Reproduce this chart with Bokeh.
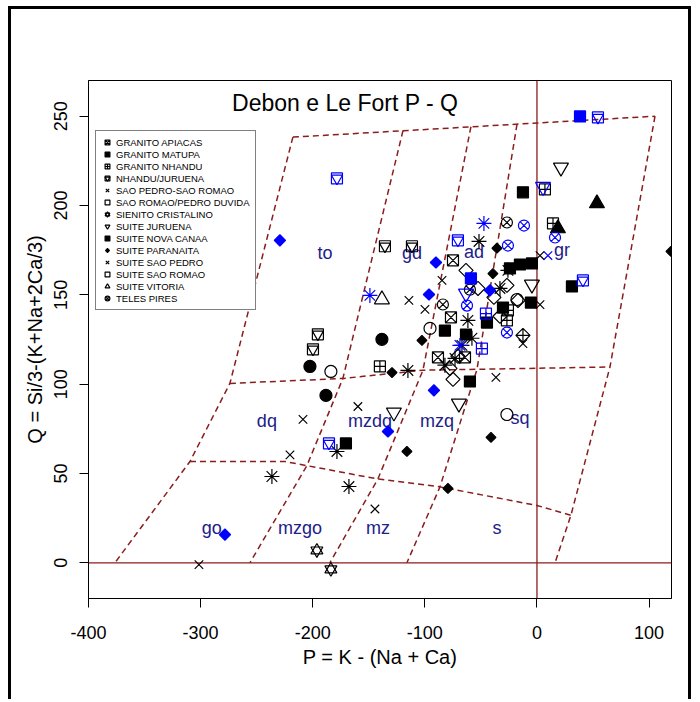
import numpy as np
from bokeh.plotting import figure
from bokeh.models import Range1d, FixedTicker, Span, Label, Legend, LegendItem
from bokeh.core.properties import value
from bokeh.embed import file_html
from bokeh.resources import INLINE

FONT = "Liberation Sans"
DKRED = "#8b1c1c"
NAVY = "#20208a"

# ---------------- Debon & Le Fort P-Q template ----------------
boundary_p = [
    [-217.7, -273.9, -309.5, -376.4],
    [-217.7, 105.3],
    [105.3, 65.1, 30.3, 16.1],
    [-273.9, -173.1, -101.7, 65.1],
    [-309.5, -224.8, -144.5, -88.3, 0.0, 30.3],
    [-119.5, -173.1, -205.2, -256.0],
    [-58.9, -101.7, -141.8, -184.7],
    [-17.8, -53.5, -86.5, -116.0],
]
boundary_q = [
    [238.3, 100.4, 56.7, 0.0],
    [238.3, 250.0],
    [250.0, 109.6, 26.6, 0.0],
    [100.4, 103.2, 107.8, 109.6],
    [56.7, 56.7, 47.2, 42.7, 32.1, 26.6],
    [241.9, 103.2, 54.4, 0.0],
    [244.1, 107.8, 47.0, 0.0],
    [245.5, 108.3, 42.5, 0.0],
]
field_names = ["to", "gd", "ad", "gr", "dq", "mzdq", "mzq", "sq", "go", "mzgo", "mz", "s"]
field_p = [-189.1, -111.5, -56.2, 22.3, -240.9, -149.0, -89.2, -15.2, -290.0, -211.4, -141.8, -35.7]
field_q = [173.3, 173.3, 173.8, 174.9, 79.1, 79.1, 79.1, 81.3, 19.2, 19.2, 19.2, 19.2]

x_ticks = [-400, -300, -200, -100, 0, 100]
x_tick_labels = ["-400", "-300", "-200", "-100", "0", "100"]
y_ticks = [0, 50, 100, 150, 200, 250]

# ---------------- samples (P, Q) by group ----------------
apiacas_p = [-74.9, -76.7, -88.3, -64.2]
apiacas_q = [169.3, 137.4, 115.0, 115.0]

matupa_p = [-129.3, -102.6, -35.7, -79.4, -116.0, -41.0, -39.3, 119.5]
matupa_q = [106.5, 124.5, 176.1, 41.6, 62.3, 70.2, 161.9, 174.3]

nhandu_p = [7.1, 14.3, -140.1, -25.9, -26.8]
nhandu_q = [209.0, 190.0, 109.9, 141.3, 135.7]

nhjur_p = [-135.6, -111.5, -195.4, -199.8]
nhjur_q = [177.2, 177.2, 127.9, 119.5]

spsr_p = [-208.7, -159.7, -220.3, -144.5, -301.5, -36.6]
spsr_q = [80.3, 87.5, 60.4, 30.1, -1.0, 103.8]

srpd_p = [-63.3, -52.6, -38.4, -26.8, -16.9]
srpd_q = [163.7, 153.6, 148.6, 155.3, 146.9]

sienito_p = [-196.3, -183.8]
sienito_q = [6.9, -3.7]

juruena_p = [21.4, -127.6, -69.6, -4.5]
juruena_q = [221.3, 84.2, 89.2, 155.8]

novacanaa_p = [-12.5, 31.2, -15.2, -4.5, -59.8, -170.4, -30.3, -5.4, -24.1, -44.6, -63.3, -82.1]
novacanaa_q = [207.4, 154.7, 167.0, 167.6, 101.5, 66.8, 142.9, 145.7, 164.8, 134.5, 127.8, 130.0]

paranaita_p = [-115.1, -51.7, -25.9, -61.6, -66.9, -73.1, -58.0, -178.4, -236.4, -167.7, -33.0, -82.1]
paranaita_q = [107.7, 179.9, 163.7, 135.7, 121.7, 114.4, 125.7, 62.3, 48.3, 42.7, 153.6, 110.6]

suitesp_p = [-84.7, -114.2, -99.9, 2.7, 2.7, -12.5]
suitesp_q = [158.1, 146.9, 141.9, 144.5, 172.0, 122.7]

suitesr_p = [-33.0, -77.6, -74.9, -70.5]
suitesr_q = [138.0, 108.8, 102.7, 115.6]

vitoria_p = [-138.3]
vitoria_q = [147.4]

telespires_p = [-26.8, -83.9, -59.8]
telespires_q = [190.5, 144.6, 152.9]

# other black symbols
fcircle_p = [-202.5, -138.3, -188.2]
fcircle_q = [109.9, 125.1, 93.7]
ocircle_p = [-183.8, -95.4, -26.8, -17.8]
ocircle_q = [107.1, 131.2, 83.0, 147.4]
ftri_p = [53.5, 18.7]
ftri_q = [201.2, 187.2]
dcross_p = [-12.5]
dcross_q = [127.3]

# blue symbols
b_square_p = [38.4, -58.9]
b_square_q = [249.9, 159.2]
b_sqtri_p = [54.4, -178.4, -70.5, 41.0, -185.5]
b_sqtri_q = [249.3, 215.2, 180.5, 158.1, 66.8]
b_itri_p = [5.4, -63.3]
b_itri_q = [210.5, 150.8]
b_cx_p = [-11.6, -25.9, 16.1, -62.4, -26.8]
b_cx_q = [188.8, 177.6, 182.1, 144.0, 128.9]
b_scross_p = [-45.5, -49.1]
b_scross_q = [139.5, 119.9]
b_ast_p = [-47.3, -149.0, -68.7]
b_ast_q = [190.0, 149.7, 121.7]
b_x_p = [9.8]
b_x_q = [172.0]
b_diam_p = [-229.3, -90.1, -96.3, -41.9, -91.9, -132.9, -278.3]
b_diam_q = [180.5, 168.1, 150.2, 152.5, 96.5, 73.5, 15.8]

legend_labels = [
    "GRANITO APIACAS", "GRANITO MATUPA", "GRANITO NHANDU", "NHANDU/JURUENA",
    "SAO PEDRO-SAO ROMAO", "SAO ROMAO/PEDRO DUVIDA", "SIENITO CRISTALINO",
    "SUITE JURUENA", "SUITE NOVA CANAA", "SUITE PARANAITA", "SUITE SAO PEDRO",
    "SUITE SAO ROMAO", "SUITE VITORIA", "TELES PIRES",
]

# ---------------- figure ----------------
p = figure(width=683, height=693,
           x_range=Range1d(-400, 120), y_range=Range1d(-20, 270),
           output_backend="svg", toolbar_location=None,
           min_border_left=77, min_border_right=23,
           min_border_top=71, min_border_bottom=104)
p.styles = {"margin-left": "8px", "margin-top": "6px",
            "border-left": "3px solid black", "border-top": "3px solid black",
            "border-right": "3px solid black"}
p.background_fill_color = "white"
p.border_fill_color = "white"
p.xgrid.grid_line_color = None
p.ygrid.grid_line_color = None
p.outline_line_color = "black"
p.outline_line_width = 1

for ax in (p.xaxis[0], p.yaxis[0]):
    ax.minor_tick_line_color = None
    ax.major_tick_in = 0
    ax.major_tick_out = 9
    ax.major_tick_line_color = "black"
    ax.axis_line_color = "black"
    ax.major_label_text_font = FONT
    ax.major_label_text_font_size = "18px"
    ax.major_label_text_color = "black"
    ax.axis_label_text_font = FONT
    ax.axis_label_text_font_size = "20px"
    ax.axis_label_text_font_style = "normal"
    ax.axis_label_text_color = "black"

p.xaxis.ticker = FixedTicker(ticks=x_ticks)
p.xaxis.major_label_overrides = dict(zip(x_ticks, x_tick_labels))
p.yaxis.ticker = FixedTicker(ticks=y_ticks)
p.xaxis.axis_label = "P = K - (Na + Ca)"
p.yaxis.axis_label = "Q = Si/3-(K+Na+2Ca/3)"
p.yaxis.major_label_orientation = "vertical"
p.xaxis.major_label_standoff = 18
p.xaxis.axis_label_standoff = 4
p.yaxis.major_label_standoff = 12
p.yaxis.axis_label_standoff = 6

# reference lines P=0, Q=0
for dim in ("height", "width"):
    s = Span(location=0, dimension=dim, line_color=DKRED, line_width=1.3, level="underlay")
    p.add_layout(s)

# field boundaries
p.multi_line(boundary_p, boundary_q, line_color=DKRED, line_width=1.5, line_dash="6 4")

# field names
p.text(x=field_p, y=field_q, text=field_names, text_font=value(FONT),
       text_font_size="18px", text_color=NAVY, text_align="center",
       text_baseline="middle")

p.add_layout(Label(x=-171, y=257.3, text="Debon e Le Fort P - Q", text_font=FONT,
                   text_font_size="23px", text_align="center",
                   text_baseline="middle", text_color="black"))

LW = 1.2
D45 = np.pi / 4


def sc(xs, ys, marker, size, color="black", fill=False, angle=0.0):
    return p.scatter(xs, ys, marker=marker, size=size, angle=angle,
                     line_color=color, fill_color=(color if fill else None),
                     line_width=LW)


# legend groups (black)
r_api = [sc(apiacas_p, apiacas_q, "square_x", 11)]
r_mat = [sc(matupa_p, matupa_q, "square", 7, fill=True, angle=D45)]
r_nha = [sc(nhandu_p, nhandu_q, "square_cross", 11)]
r_nhj = [sc(nhjur_p, nhjur_q, "square", 11), sc(nhjur_p, nhjur_q, "inverted_triangle", 11)]
r_spsr = [sc(spsr_p, spsr_q, "x", 12)]
r_srpd = [sc(srpd_p, srpd_q, "square", 10, angle=D45)]
r_sie = [sc(sienito_p, sienito_q, "triangle", 12), sc(sienito_p, sienito_q, "inverted_triangle", 12)]
r_jur = [sc(juruena_p, juruena_q, "inverted_triangle", 15)]
r_nc = [sc(novacanaa_p, novacanaa_q, "square", 11, fill=True)]
r_par = [sc(paranaita_p, paranaita_q, "asterisk", 15)]
r_ssp = [sc(suitesp_p, suitesp_q, "x", 12)]
r_ssr = [sc(suitesr_p, suitesr_q, "square", 10, angle=D45)]
r_vit = [sc(vitoria_p, vitoria_q, "triangle", 15)]
r_tp = [sc(telespires_p, telespires_q, "circle_x", 11)]

# other black symbols
sc(fcircle_p, fcircle_q, "circle", 12, fill=True)
sc(ocircle_p, ocircle_q, "circle", 12)
sc(ftri_p, ftri_q, "triangle", 15, fill=True)
sc(dcross_p, dcross_q, "square_x", 10, angle=D45)

# blue symbols
B = "#0000ff"
sc(b_square_p, b_square_q, "square", 11, color=B, fill=True)
sc(b_sqtri_p, b_sqtri_q, "square", 11, color=B)
sc(b_sqtri_p, b_sqtri_q, "inverted_triangle", 11, color=B)
sc(b_itri_p, b_itri_q, "inverted_triangle", 15, color=B)
sc(b_cx_p, b_cx_q, "circle_x", 11, color=B)
sc(b_scross_p, b_scross_q, "square_cross", 11, color=B)
sc(b_ast_p, b_ast_q, "asterisk", 15, color=B)
sc(b_x_p, b_x_q, "x", 12, color=B)
sc(b_diam_p, b_diam_q, "square", 8, color=B, fill=True, angle=D45)

groups = [r_api, r_mat, r_nha, r_nhj, r_spsr, r_srpd, r_sie, r_jur, r_nc, r_par,
          r_ssp, r_ssr, r_vit, r_tp]
items = [LegendItem(label=lab, renderers=rs) for lab, rs in zip(legend_labels, groups)]
legend = Legend(items=items, location=(7, 288))
legend.label_text_font = FONT
legend.label_text_font_size = "9.5px"
legend.label_text_color = "black"
legend.label_height = 12
legend.glyph_height = 12
legend.glyph_width = 12
legend.label_standoff = 3
legend.spacing = 0
legend.padding = 5
legend.margin = 0
legend.border_line_color = "black"
legend.border_line_width = 1
legend.background_fill_color = "white"
legend.background_fill_alpha = 1.0
p.add_layout(legend)

open("out.html", "w").write(file_html(p, INLINE))
